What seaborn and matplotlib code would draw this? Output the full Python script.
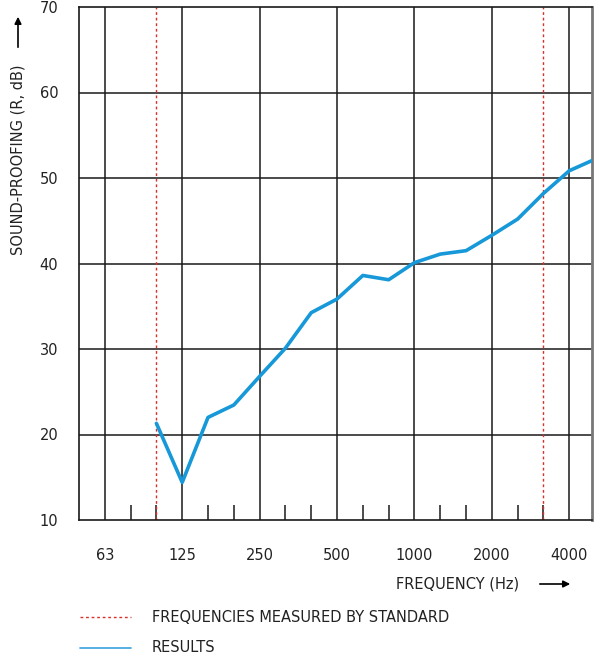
import numpy as np
import pandas as pd
import matplotlib.pyplot as plt
import seaborn as sns

# --- Data ---
bands = [50, 63, 80, 100, 125, 160, 200, 250, 315, 400, 500, 630, 800,
         1000, 1250, 1600, 2000, 2500, 3150, 4000, 5000]
result_freqs = [100, 125, 160, 200, 250, 315, 400, 500, 630, 800, 1000,
                1250, 1600, 2000, 2500, 3150, 4000, 5000]
result_db = [21.3, 14.4, 22.0, 23.45, 26.8, 30.1, 34.25, 35.85, 38.6, 38.1,
             40.1, 41.1, 41.5, 43.3, 45.2, 48.2, 50.85, 52.2]
standard_freqs = [100, 3150]
octave_labels = [63, 125, 250, 500, 1000, 2000, 4000]
y_ticks = [10, 20, 30, 40, 50, 60, 70]

pos = {f: i for i, f in enumerate(bands)}
df = pd.DataFrame({'band': [pos[f] for f in result_freqs], 'db': result_db})

# --- Style ---
sns.set_theme(style="white")
plt.rcParams['font.family'] = ['DejaVu Sans']
text_col = '#222222'
blue = '#1798d8'
red = '#d9302c'
fs = 10.5

fig = plt.figure(figsize=(6.01, 6.57), dpi=100)
ax = fig.add_axes([79 / 601, 1 - 520 / 657, 513 / 601, 513 / 657])

# grid: octave verticals and 10 dB horizontals
for f in octave_labels:
    ax.axvline(pos[f], color='#1a1a1a', lw=1.1, zorder=1)
for y in y_ticks[1:-1]:
    ax.axhline(y, color='#1a1a1a', lw=1.1, zorder=1)

# measured-by-standard range
for f in standard_freqs:
    ax.axvline(pos[f], color=red, lw=1.0, ls=(0, (2, 2)), zorder=2)

sns.lineplot(data=df, x='band', y='db', color=blue, lw=2.6, ax=ax,
             zorder=3, clip_on=True)

ax.set_xlim(0, 19.88)
ax.set_ylim(10, 70)

ax.set_xticks([pos[f] for f in octave_labels])
ax.set_xticklabels([str(f) for f in octave_labels])
minor = [pos[f] for f in bands[1:-1] if f not in octave_labels]
ax.set_xticks(minor, minor=True)
ax.tick_params(axis='x', which='major', length=0, pad=20, labelsize=fs,
               labelcolor=text_col)
ax.tick_params(axis='x', which='minor', direction='in', length=11,
               width=1.1, color='#1a1a1a', bottom=True)
ax.set_yticks(y_ticks)
ax.tick_params(axis='y', length=0, pad=15, labelsize=fs, labelcolor=text_col)
ax.set_xlabel('')
ax.set_ylabel('')

for side in ['left', 'top', 'bottom']:
    ax.spines[side].set_color('#1a1a1a')
    ax.spines[side].set_linewidth(1.2)
ax.spines['right'].set_color('#777777')
ax.spines['right'].set_linewidth(2.0)

# axis titles with arrows
fig.text(519 / 601, 1 - 584 / 657, 'FREQUENCY (Hz)', ha='right', va='center',
         fontsize=fs, color=text_col)
fig.add_artist(plt.Annotation('', xy=(573 / 601, 1 - 584 / 657),
                              xytext=(537 / 601, 1 - 584 / 657),
                              xycoords='figure fraction',
                              arrowprops=dict(arrowstyle='-|>', color='black',
                                              lw=1.2, mutation_scale=10)))
fig.text(18 / 601, 1 - 160 / 657, 'SOUND-PROOFING (R, dB)', rotation=90,
         ha='center', va='center', fontsize=fs, color=text_col)
fig.add_artist(plt.Annotation('', xy=(18 / 601, 1 - 14 / 657),
                              xytext=(18 / 601, 1 - 50 / 657),
                              xycoords='figure fraction',
                              arrowprops=dict(arrowstyle='-|>', color='black',
                                              lw=1.2, mutation_scale=10)))

# legend rows
fig.add_artist(plt.Line2D([80 / 601, 131 / 601], [1 - 617 / 657] * 2,
                          color=red, lw=1.0, ls=(0, (2, 2))))
fig.text(152 / 601, 1 - 617 / 657, 'FREQUENCIES MEASURED BY STANDARD',
         va='center', fontsize=fs, color=text_col)
fig.add_artist(plt.Line2D([80 / 601, 131 / 601], [1 - 648 / 657] * 2,
                          color='#4aa8e0', lw=1.3))
fig.text(152 / 601, 1 - 648 / 657, 'RESULTS', va='center', fontsize=fs,
         color=text_col)

fig.savefig('out.png', dpi=100)
